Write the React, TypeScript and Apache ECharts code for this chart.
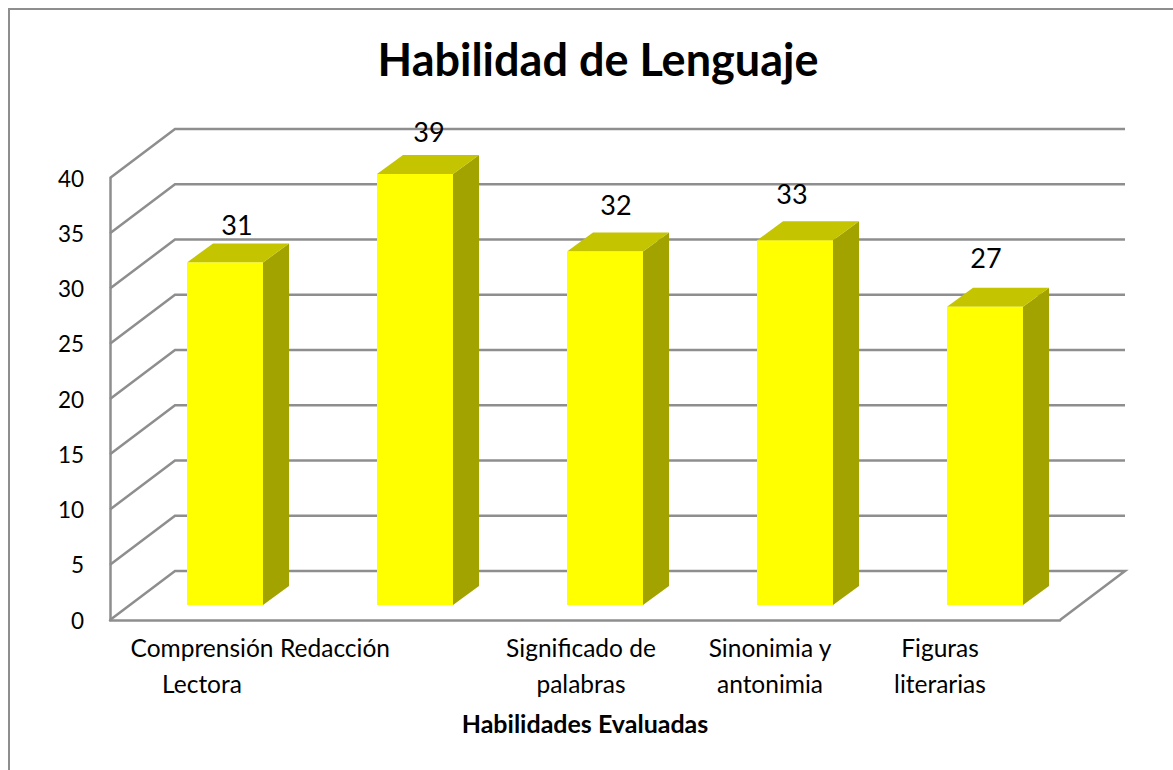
import React, { useEffect, useRef } from "react";
import * as echarts from "echarts";

const categories = ["Comprensión\nLectora", "Redacción", "Significado de\npalabras", "Sinonimia y\nantonimia", "Figuras\nliterarias"];
const values = [31, 39, 32, 33, 27];
const yTicks = [0, 5, 10, 15, 20, 25, 30, 35, 40];
const labelShift = [-3, -60, -4, -5, -25];
const valueLabelOffset = [[12, -38], [14, -43], [11, -47], [-3, -47], [1, -49]];

const FONT = "Lato";
const GREY = "#8e8e8e";
const DEPTH = [65, -49];
const BAR_BASE = [20, -15];
const BAR_DEPTH = [26, -19];

export default function App() {
  const ref = useRef<HTMLDivElement>(null);
  useEffect(() => {
    const chart = echarts.init(ref.current!, undefined, { renderer: "svg" });
    const lineStyle = { stroke: GREY, lineWidth: 2.5, fill: "none" };
    chart.setOption({
      animation: false,
      backgroundColor: "#ffffff",
      textStyle: { fontFamily: FONT },
      title: {
        text: "Habilidad de Lenguaje",
        left: 593,
        top: 31,
        textAlign: "center",
        textStyle: { fontFamily: FONT, fontSize: 45, fontWeight: "bold", color: "#000" },
      },
      graphic: [
        {
          type: "polyline",
          silent: true,
          shape: { points: [[9, 770], [9, 9], [1173, 9]] },
          style: { stroke: GREY, lineWidth: 2, fill: "none" },
        },
      ],
      grid: { left: 110, right: 113, top: 178, bottom: 150 },
      xAxis: {
        type: "category",
        data: categories,
        axisTick: { show: false },
        axisLine: { lineStyle: { color: GREY, width: 2.5 } },
        name: "Habilidades Evaluadas",
        nameLocation: "middle",
        nameGap: 90,
        nameTextStyle: { fontFamily: FONT, fontSize: 25, fontWeight: "bold", color: "#000" },
        axisLabel: {
          interval: 0,
          margin: 9,
          color: "#000",
          formatter: (v: string) => {
            const i = categories.indexOf(v);
            return v.split("\n").map((l) => `{s${i}|${l}}`).join("\n");
          },
          rich: Object.fromEntries(
            labelShift.map((s, i) => [
              `s${i}`,
              { fontFamily: FONT, fontSize: 24.5, color: "#000", lineHeight: 36, padding: [0, -2 * s, 0, 0] },
            ])
          ),
        },
      },
      yAxis: {
        type: "value",
        min: 0,
        max: 40,
        interval: 5,
        splitLine: { show: false },
        axisTick: { show: false },
        axisLine: { show: true, lineStyle: { color: GREY, width: 2.5 } },
        axisLabel: { margin: 26, color: "#000", fontFamily: FONT, fontSize: 22.5 },
      },
      series: [
        {
          type: "custom",
          name: "walls",
          z: 1,
          silent: true,
          data: yTicks.map((t) => [0, t]),
          renderItem: (params: any, api: any) => {
            const cs = params.coordSys;
            const y = api.coord([0, api.value(1)])[1];
            const x0 = cs.x;
            const xb = cs.x + DEPTH[0];
            const xr = cs.x + cs.width + DEPTH[0];
            const yb = y + DEPTH[1];
            const pts = [[x0, y], [xb, yb], [xr, yb]];
            if (api.value(1) === 0) pts.push([cs.x + cs.width, y]);
            return { type: "polyline", shape: { points: pts }, style: lineStyle };
          },
        },
        {
          type: "custom",
          name: "Habilidad",
          z: 2,
          data: values.map((v, i) => [i, v]),
          renderItem: (params: any, api: any) => {
            const i = api.value(0);
            const c = api.coord([i, api.value(1)]);
            const base = api.coord([i, 0]);
            const w = api.size([1, 0])[0] * 0.4;
            const l = c[0] - w / 2 + BAR_BASE[0];
            const r = l + w;
            const t = c[1] + BAR_BASE[1];
            const b = base[1] + BAR_BASE[1];
            const [dx, dy] = BAR_DEPTH;
            const off = valueLabelOffset[i];
            return {
              type: "group",
              children: [
                { type: "polygon", shape: { points: [[r, t], [r + dx, t + dy], [r + dx, b + dy], [r, b]] }, style: { fill: "#a3a300" } },
                { type: "polygon", shape: { points: [[l, t], [l + dx, t + dy], [r + dx, t + dy], [r, t]] }, style: { fill: "#c4c400" } },
                { type: "rect", shape: { x: l, y: t, width: w, height: b - t }, style: { fill: "#ffff00" } },
                {
                  type: "text",
                  style: {
                    x: (l + r) / 2 + off[0],
                    y: t + off[1],
                    text: String(api.value(1)),
                    align: "center",
                    verticalAlign: "middle",
                    font: `27px ${FONT}`,
                    fill: "#000",
                  },
                },
              ],
            };
          },
        },
      ],
    });
    return () => chart.dispose();
  }, []);
  return <div ref={ref} style={{ position: "fixed", left: 0, top: 0, width: 1173, height: 770 }} />;
}
